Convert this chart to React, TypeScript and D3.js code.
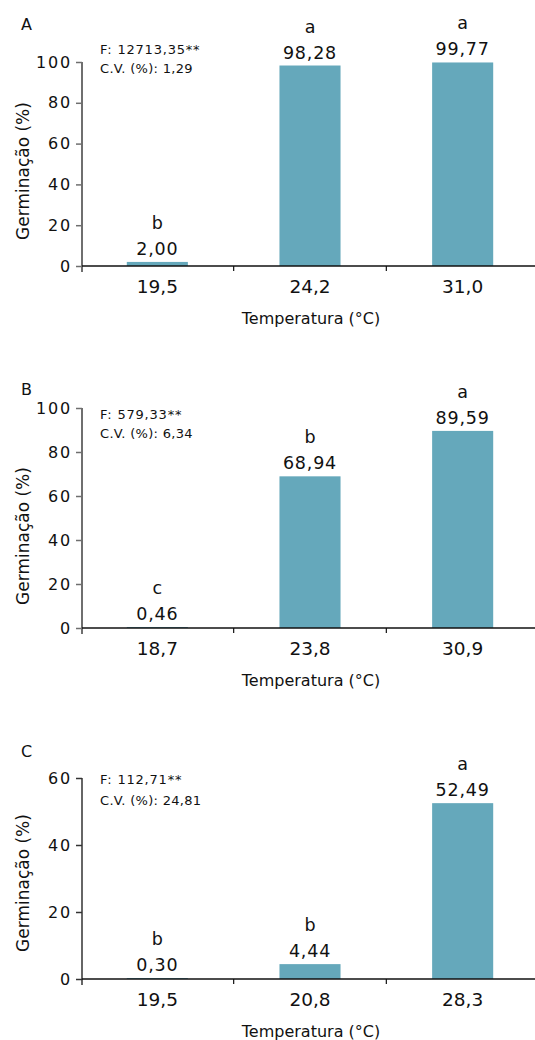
import React, { useEffect, useRef } from "react";
import * as d3 from "d3";

// data
const panelNames = ["A", "B", "C"];
const temperaturesA = ["19,5", "24,2", "31,0"];
const temperaturesB = ["18,7", "23,8", "30,9"];
const temperaturesC = ["19,5", "20,8", "28,3"];
const germinationA = [2.0, 98.28, 99.77];
const germinationB = [0.46, 68.94, 89.59];
const germinationC = [0.3, 4.44, 52.49];
const lettersA = ["b", "a", "a"];
const lettersB = ["c", "b", "a"];
const lettersC = ["b", "b", "a"];
const fValues = ["12713,35**", "579,33**", "112,71**"];
const cvValues = ["1,29", "6,34", "24,81"];
const yMaxes = [100, 100, 60];
const yTicksAB = [0, 20, 40, 60, 80, 100];
const yTicksC = [0, 20, 40, 60];

const W = 535;
const H = 1040;
const FONT = "'DejaVu Sans', Verdana, sans-serif";
const BAR = "#65a8bb";

// layout for each panel (pixels)
const layout = [
  { top: 62, bottom: 266, label: 30, f: 54, cv: 73, yTitle: 171, yAxisColor: "#6f6f6f", yAxisW: 2 },
  { top: 408, bottom: 628, label: 395, f: 419, cv: 438, yTitle: 536, yAxisColor: "#6f6f6f", yAxisW: 2 },
  { top: 778, bottom: 979, label: 757, f: 784, cv: 805, yTitle: 883, yAxisColor: "#333", yAxisW: 1.5 },
];

const fmt = (v) => d3.format(".2f")(v).replace(".", ",");

const App = () => {
  const svgRef = useRef();

  useEffect(() => {
    const svg = d3.select(svgRef.current);
    svg.selectAll("*").remove();

    const panels = [
      { cats: temperaturesA, vals: germinationA, letters: lettersA, ticks: yTicksAB },
      { cats: temperaturesB, vals: germinationB, letters: lettersB, ticks: yTicksAB },
      { cats: temperaturesC, vals: germinationC, letters: lettersC, ticks: yTicksC },
    ];

    const x0 = 82;
    panels.forEach((p, i) => {
      const L = layout[i];
      const g = svg.append("g");

      const x = d3.scaleBand().domain(p.cats).range([81, 539]).paddingInner(0.6).paddingOuter(0.3);
      const y = d3.scaleLinear().domain([0, yMaxes[i]]).range([L.bottom, L.top]);

      // panel letter
      g.append("text")
        .attr("x", 21)
        .attr("y", L.label)
        .style("font-size", "16px")
        .text(panelNames[i]);

      // stats
      g.append("text").attr("x", 100).attr("y", L.f)
        .style("font-size", "13px").style("letter-spacing", "0.8px")
        .text(`F: ${fValues[i]}`);
      g.append("text").attr("x", 100).attr("y", L.cv)
        .style("font-size", "13px").style("letter-spacing", "0.3px")
        .text(`C.V. (%): ${cvValues[i]}`);

      // bars
      g.selectAll(".bar")
        .data(p.vals)
        .enter()
        .append("rect")
        .attr("x", (d, j) => x(p.cats[j]))
        .attr("y", (d) => y(d))
        .attr("width", x.bandwidth())
        .attr("height", (d) => L.bottom - y(d))
        .attr("fill", BAR);

      // values and letters over bars
      g.selectAll(".val")
        .data(p.vals)
        .enter()
        .append("text")
        .attr("x", (d, j) => x(p.cats[j]) + x.bandwidth() / 2)
        .attr("y", (d) => y(d) - 7)
        .attr("text-anchor", "middle")
        .style("font-size", "17.5px")
        .style("letter-spacing", "0.8px")
        .text((d) => fmt(d));
      g.selectAll(".let")
        .data(p.vals)
        .enter()
        .append("text")
        .attr("x", (d, j) => x(p.cats[j]) + x.bandwidth() / 2)
        .attr("y", (d) => y(d) - 33)
        .attr("text-anchor", "middle")
        .style("font-size", "17.5px")
        .text((d, j) => p.letters[j]);

      // y axis
      const yAxis = g.append("g")
        .attr("transform", `translate(${x0},0)`)
        .call(d3.axisLeft(y).tickValues(p.ticks).tickSize(6).tickPadding(4).tickSizeOuter(0));
      yAxis.select(".domain").remove();
      yAxis.selectAll("line").attr("stroke", L.yAxisColor).attr("stroke-width", 1.5);
      yAxis.selectAll("text")
        .style("font-size", "16px")
        .style("font-family", FONT)
        .style("letter-spacing", "1.8px")
        .attr("fill", "#111");
      g.append("line")
        .attr("x1", x0).attr("x2", x0)
        .attr("y1", L.top).attr("y2", L.bottom + 6)
        .attr("stroke", L.yAxisColor).attr("stroke-width", L.yAxisW);

      // x axis
      g.append("line")
        .attr("x1", x0).attr("x2", W)
        .attr("y1", L.bottom).attr("y2", L.bottom)
        .attr("stroke", "#111").attr("stroke-width", 1.5);
      const step = x.step();
      p.cats.slice(1).forEach((c) => {
        const bx = x(c) - (step - x.bandwidth()) / 2;
        g.append("line")
          .attr("x1", bx).attr("x2", bx)
          .attr("y1", L.bottom).attr("y2", L.bottom + 5)
          .attr("stroke", "#111").attr("stroke-width", 1.2);
      });
      g.selectAll(".cat")
        .data(p.cats)
        .enter()
        .append("text")
        .attr("x", (d) => x(d) + x.bandwidth() / 2)
        .attr("y", L.bottom + 27)
        .attr("text-anchor", "middle")
        .style("font-size", "18.5px")
        .text((d) => d);

      // axis titles
      g.append("text")
        .attr("x", 311)
        .attr("y", L.bottom + 58)
        .attr("text-anchor", "middle")
        .style("font-size", "16px")
        .text("Temperatura (°C)");
      g.append("text")
        .attr("transform", `translate(29,${L.yTitle}) rotate(-90)`)
        .attr("text-anchor", "middle")
        .style("font-size", "17px")
        .text("Germinação (%)");
    });

    svg.selectAll("text").style("font-family", FONT).attr("fill", "#111");
  });

  return (
    <svg
      ref={svgRef}
      width={W}
      height={H}
      style={{ position: "absolute", left: 0, top: 0, background: "#fff" }}
    ></svg>
  );
};

export default App;
